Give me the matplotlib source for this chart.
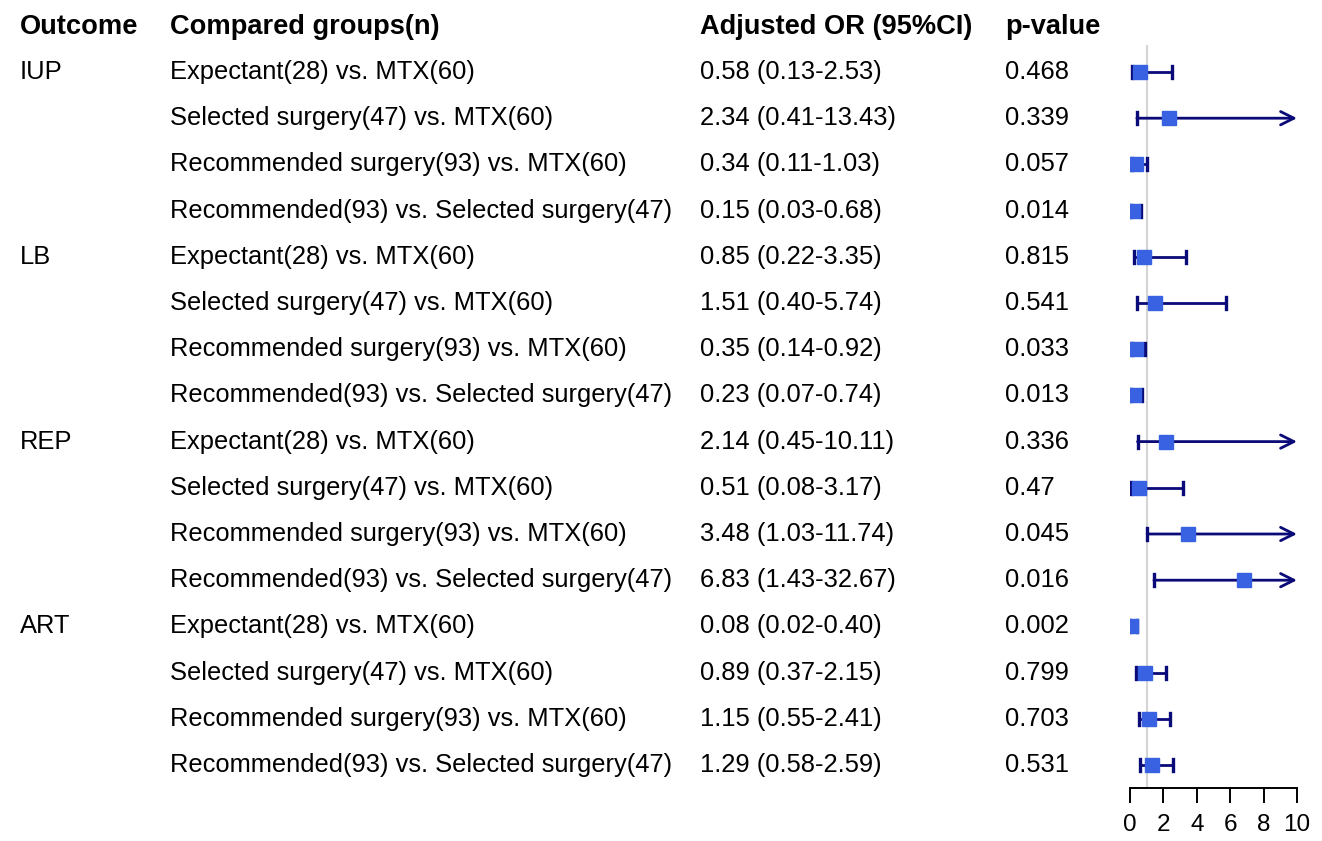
import matplotlib.pyplot as plt
from matplotlib.transforms import blended_transform_factory

plt.rcParams['font.family'] = ['Liberation Sans', 'DejaVu Sans']

# data
outcomes = ["IUP", "LB", "REP", "ART"]
groups = [
    "Expectant(28) vs. MTX(60)",
    "Selected surgery(47) vs. MTX(60)",
    "Recommended surgery(93) vs. MTX(60)",
    "Recommended(93) vs. Selected surgery(47)",
]
odds = [0.58, 2.34, 0.34, 0.15,
        0.85, 1.51, 0.35, 0.23,
        2.14, 0.51, 3.48, 6.83,
        0.08, 0.89, 1.15, 1.29]
lower = [0.13, 0.41, 0.11, 0.03,
         0.22, 0.40, 0.14, 0.07,
         0.45, 0.08, 1.03, 1.43,
         0.02, 0.37, 0.55, 0.58]
upper = [2.53, 13.43, 1.03, 0.68,
         3.35, 5.74, 0.92, 0.74,
         10.11, 3.17, 11.74, 32.67,
         0.40, 2.15, 2.41, 2.59]
pvals = ["0.468", "0.339", "0.057", "0.014",
         "0.815", "0.541", "0.033", "0.013",
         "0.336", "0.47", "0.045", "0.016",
         "0.002", "0.799", "0.703", "0.531"]
headers = ["Outcome", "Compared groups(n)", "Adjusted OR (95%CI)", "p-value"]
xticks = [0, 2, 4, 6, 8, 10]

W, H = 1322, 841
XMAX = 10
FS = 18.4
FS_HEAD = 19.6
fig = plt.figure(figsize=(W / 100, H / 100), dpi=100)

# forest panel, placed in pixel terms
ax_l, ax_r, ax_top, ax_bot = 1130, 1297, 45, 788
ax = fig.add_axes([ax_l / W, 1 - ax_bot / H, (ax_r - ax_l) / W, (ax_bot - ax_top) / H])
row0, step = 72, 46.2
ax.set_xlim(0, XMAX)
ax.set_ylim((ax_bot - row0) / step, (ax_top - row0) / step)

line_c = "#0a0a78"
box_c = "#3862e2"
cap = 0.13

ax.axvline(1, color="#d4d4d4", lw=1.5, zorder=0)
for i, (o, lo, hi) in enumerate(zip(odds, lower, upper)):
    if hi > XMAX:
        ax.annotate("", xy=(XMAX, i), xytext=(lo, i),
                    arrowprops=dict(arrowstyle="->", color=line_c, lw=2.0,
                                    mutation_scale=24, shrinkA=0, shrinkB=0))
    else:
        ax.plot([lo, hi], [i, i], color=line_c, lw=2.0)
        ax.plot([hi, hi], [i - cap, i + cap], color=line_c, lw=2.4)
    ax.plot([lo, lo], [i - cap, i + cap], color=line_c, lw=2.4)
    ax.plot(o, i, marker="s", ms=9.5, color=box_c, zorder=3)

for s in ["top", "right", "left"]:
    ax.spines[s].set_visible(False)
ax.spines["bottom"].set_linewidth(1.4)
ax.set_yticks([])
ax.set_xticks(xticks)
ax.tick_params(axis="x", length=11, width=1.4, labelsize=17.5, pad=8)

# text columns
tr = blended_transform_factory(fig.transFigure, ax.transData)
col_x = [20, 170, 700, 1005]
head_y = (27 - row0) / step
for x, h in zip(col_x, headers):
    fig.text(x / W, head_y, h, transform=tr, fontsize=FS_HEAD, fontweight="bold",
             va="center")

for i in range(len(odds)):
    if i % 4 == 0:
        fig.text(col_x[0] / W, i, outcomes[i // 4], transform=tr, fontsize=FS, va="center")
    fig.text(col_x[1] / W, i, groups[i % 4], transform=tr, fontsize=FS, va="center")
    fig.text(col_x[2] / W, i, f"{odds[i]:.2f} ({lower[i]:.2f}-{upper[i]:.2f})",
             transform=tr, fontsize=FS, va="center")
    fig.text(col_x[3] / W, i, pvals[i], transform=tr, fontsize=FS, va="center")

fig.savefig("out.png", dpi=100, facecolor="white")
